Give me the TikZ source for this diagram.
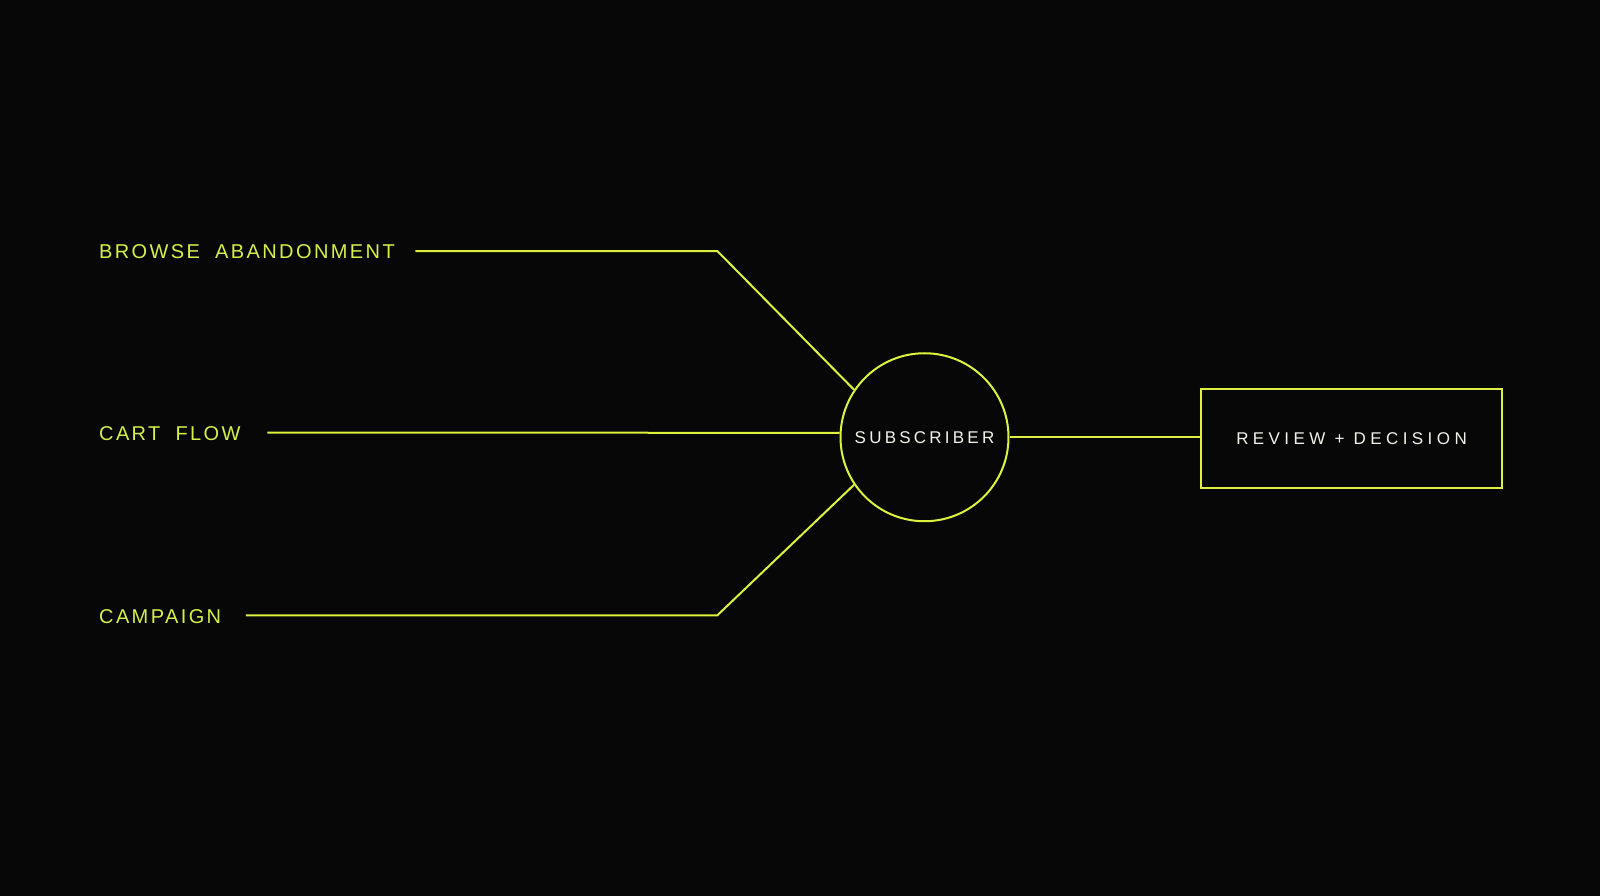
\documentclass[tikz,border=0pt]{standalone}
\usepackage{fontspec}
\setmainfont{Liberation Sans}
\newfontfamily\labelfont{Liberation Sans}[LetterSpace=12,WordSpace=1.9]
\newfontfamily\hubfont{Liberation Sans}[LetterSpace=19]
\newfontfamily\boxfont{Liberation Sans}[LetterSpace=26]
\definecolor{bg}{HTML}{070707}
\definecolor{lime}{HTML}{DCF23E}
\definecolor{labelc}{HTML}{D6F04A}
\definecolor{whitec}{HTML}{F2F2EA}
\tikzset{
  conn/.style={draw=lime, line width=2pt},
  srclabel/.style={anchor=west, inner sep=0pt, text=labelc, font=\labelfont\fontsize{20}{20}\selectfont},
  hub/.style={circle, draw=lime, line width=2pt, minimum size=168pt, inner sep=0pt, text=whitec, font=\hubfont\fontsize{17}{17}\selectfont},
  outbox/.style={rectangle, draw=lime, line width=2pt, minimum width=301pt, minimum height=99pt, inner sep=0pt, text=whitec, font=\boxfont\fontsize{17}{17}\selectfont}
}
\begin{document}
\begin{tikzpicture}[x=1.0204pt,y=-1.0204pt]
\fill[bg] (0,0) rectangle (1568,878);
\useasboundingbox (0,0) rectangle (1568,878);
\node[srclabel] (browse) at (97,246.5) {BROWSE ABANDONMENT};
\node[srclabel] (cart) at (97,424.5) {CART FLOW};
\node[srclabel] (camp) at (97,604) {CAMPAIGN};
\node[hub] (sub) at (906,428.5) {SUBSCRIBER};
\node[outbox] (rev) at (1324.5,429.5) {REVIEW + DECISION};
\coordinate (b1) at (407,246);
\coordinate (b2) at (703,246);
\coordinate (c1) at (262,424);
\coordinate (p1) at (241,603);
\coordinate (p2) at (703,603);
\draw[conn] (b1) -- (b2) -- (sub.146);
\draw[conn] (c1) -- (sub.177);
\draw[conn] (p1) -- (p2) -- (sub.214);
\draw[conn] (sub.east) -- (rev.west |- sub.east);
\end{tikzpicture}
\end{document}
